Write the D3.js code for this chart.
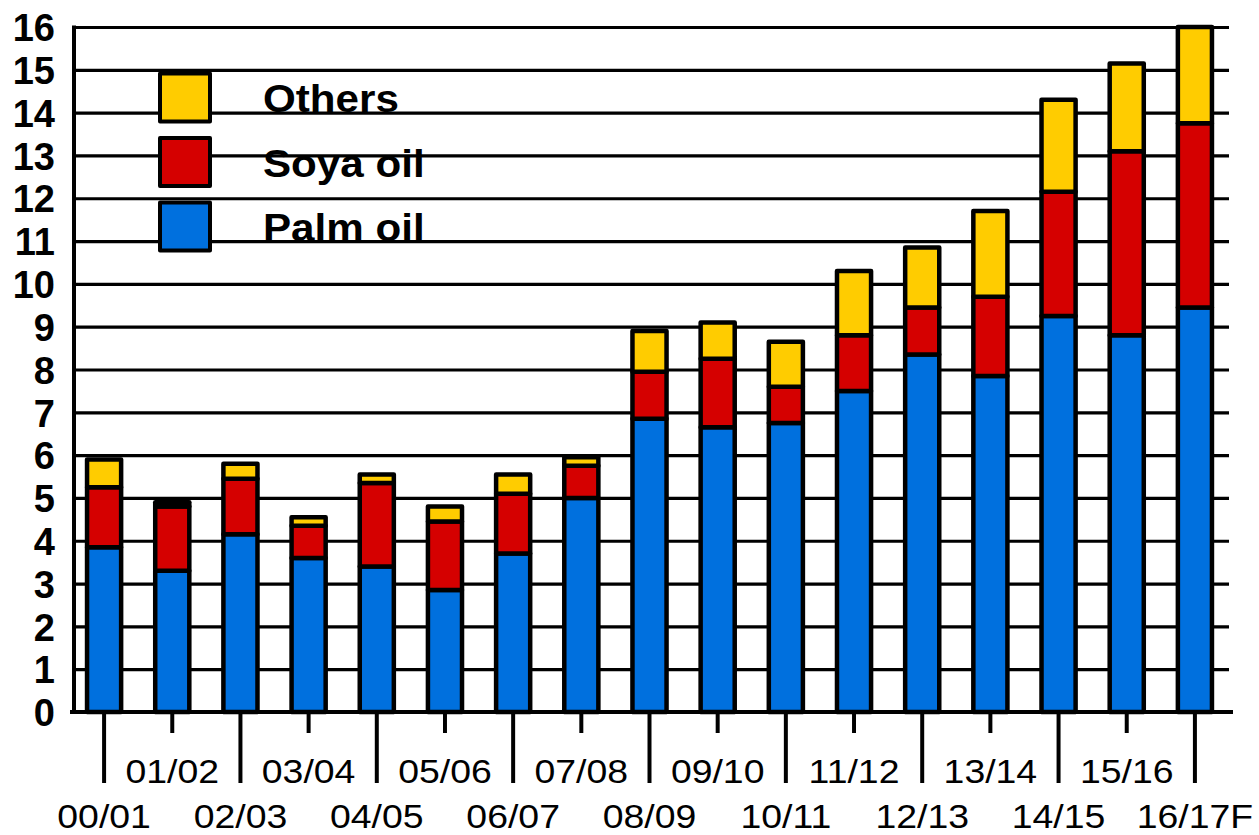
<!DOCTYPE html>
<html>
<head>
<meta charset="utf-8">
<script src="https://cdn.jsdelivr.net/npm/d3@7"></script>
<style>
  html, body { margin: 0; padding: 0; background: #fff; }
  svg { display: block; font-family: "Liberation Sans", Arial, sans-serif; }
</style>
</head>
<body>
<svg id="chart" width="1259" height="835"></svg>
<script>
// Marketing years
const categories = ["00/01","01/02","02/03","03/04","04/05","05/06","06/07","07/08","08/09",
                    "09/10","10/11","11/12","12/13","13/14","14/15","15/16","16/17F"];
// Million tonnes per oil type (stacked bottom to top: palm, soya, others)
const palmOil = [3.85, 3.3, 4.15, 3.6, 3.4, 2.85, 3.7, 5.0, 6.85, 6.65, 6.75, 7.5, 8.35, 7.85, 9.25, 8.8, 9.45];
const soyaOil = [1.4, 1.5, 1.3, 0.75, 1.95, 1.6, 1.4, 0.75, 1.1, 1.6, 0.85, 1.3, 1.1, 1.85, 2.9, 4.3, 4.3];
const others  = [0.65, 0.1, 0.35, 0.2, 0.2, 0.35, 0.45, 0.2, 0.95, 0.85, 1.05, 1.5, 1.4, 2.0, 2.15, 2.05, 2.25];
const yTicks = d3.range(0, 17);
const seriesNames = ["Palm oil", "Soya oil", "Others"];
const seriesColors = ["#0070DE", "#D50000", "#FFCC00"];

const svg = d3.select("#chart");
const plotLeft = 74, plotRight = 1229, plotTop = 27, plotBottom = 712;

const x = d3.scaleBand().domain(categories).range([70, plotRight]).paddingInner(0.5).paddingOuter(0.25);
const y = d3.scaleLinear().domain([0, 16]).range([plotBottom, plotTop]);

// Horizontal grid + y labels
const yAxis = svg.append("g")
  .attr("transform", `translate(${plotLeft},0)`)
  .call(d3.axisLeft(y).tickValues(yTicks).tickSize(-(plotRight - plotLeft)).tickPadding(19).tickFormat(d3.format("d")));
yAxis.select(".domain").remove();
yAxis.selectAll(".tick line").attr("stroke", "#000").attr("stroke-width", 3.2);
yAxis.selectAll(".tick text")
  .attr("fill", "#000").style("font-size", "38px").style("font-weight", "bold")
  .attr("dy", "0.36em");

// Legend (boxes over the gridlines)
const legendOrder = [2, 1, 0];
const legend = svg.append("g");
legendOrder.forEach((si, i) => {
  const cy = 97.5 + i * 64.5;
  legend.append("rect")
    .attr("x", 160).attr("y", cy - 24).attr("width", 50).attr("height", 48)
    .attr("fill", seriesColors[si]).attr("stroke", "#000").attr("stroke-width", 4)
    .attr("stroke-linejoin", "round");
  legend.append("text")
    .attr("transform", `translate(263,${cy + 14.5}) scale(1.11,1)`)
    .style("font-size", "38px").style("font-weight", "bold").attr("fill", "#000")
    .text(seriesNames[si]);
});

// Stacked bars
const rows = categories.map((c, i) => ({ cat: c, "Palm oil": palmOil[i], "Soya oil": soyaOil[i], "Others": others[i] }));
const stacked = d3.stack().keys(seriesNames)(rows);
svg.append("g").selectAll("g")
  .data(stacked).join("g")
  .attr("fill", (d, i) => seriesColors[i])
  .selectAll("rect")
  .data(d => d).join("rect")
  .attr("x", d => x(d.data.cat))
  .attr("width", x.bandwidth())
  .attr("y", d => y(d[1]))
  .attr("height", d => y(d[0]) - y(d[1]))
  .attr("stroke", "#000").attr("stroke-width", 4.5).attr("stroke-linejoin", "round");

// Left axis line
svg.append("line").attr("x1", plotLeft).attr("x2", plotLeft).attr("y1", plotTop - 1.5).attr("y2", plotBottom + 2)
  .attr("stroke", "#000").attr("stroke-width", 4);

// Bottom axis with alternating long/short ticks and staggered labels
const xAxis = svg.append("g")
  .attr("transform", `translate(0,${plotBottom})`)
  .call(d3.axisBottom(x).tickSize(0).tickPadding(0));
xAxis.select(".domain").remove();
svg.append("line").attr("x1", 70).attr("x2", 1233).attr("y1", plotBottom).attr("y2", plotBottom)
  .attr("stroke", "#000").attr("stroke-width", 4);
xAxis.selectAll(".tick line")
  .attr("stroke", "#000").attr("stroke-width", 4)
  .attr("y2", (d, i) => i % 2 === 0 ? 71 : 21);
xAxis.selectAll(".tick text")
  .attr("fill", "#000").style("font-size", "34px")
  .attr("dy", null)
  .attr("y", (d, i) => i % 2 === 0 ? 116 : 71)
  .attr("transform", "scale(1.1,1)");
</script>
</body>
</html>
